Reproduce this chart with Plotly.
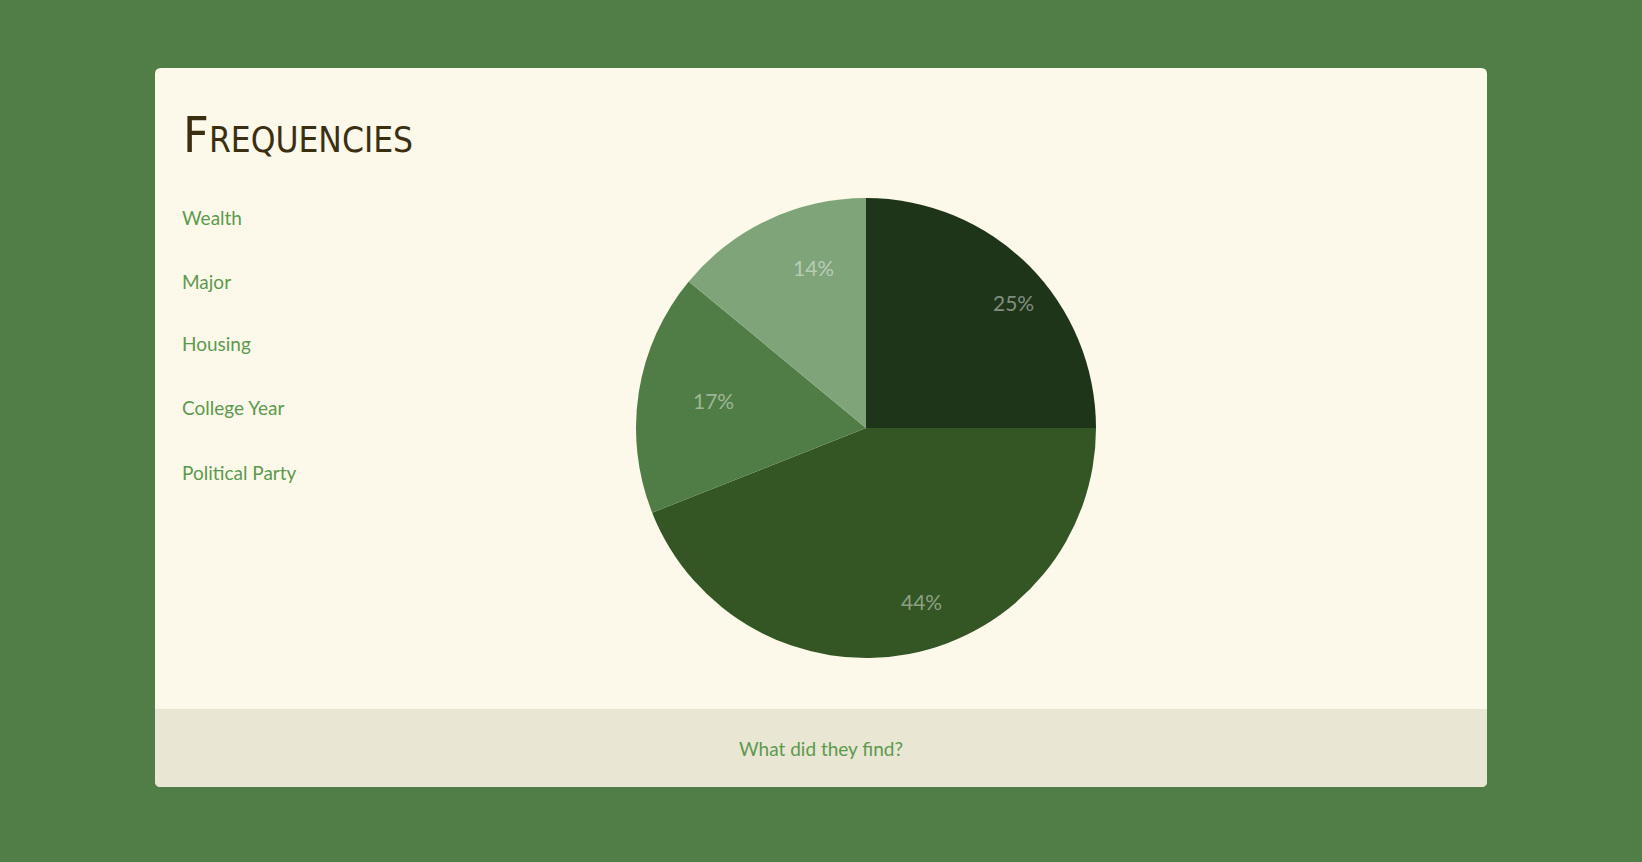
import math
import plotly.graph_objects as go

W, H = 1642, 862

# ---- data ----
slice_labels = ["Slice 1", "Slice 2", "Slice 3", "Slice 4"]
slice_values = [25, 44, 17, 14]
slice_colors = ["#1e3519", "#335624", "#507d45", "#7fa47a"]

menu_items = ["Wealth", "Major", "Housing", "College Year", "Political Party"]
title_text = "Frequencies"
footer_text = "What did they find?"

BG = "#517e46"
CARD = "#fdf9ea"
FOOT = "#e9e6d4"
TEXT_GREEN = "#5b9a4e"
TITLE_COL = "#3b2f12"


def px_x(x):
    return x / W


def px_y(y):
    return 1 - y / H


def rounded_path(x0, y0, x1, y1, r, top=True, bottom=True):
    def P(x, y):
        return f"{px_x(x):.6f},{px_y(y):.6f}"
    rt = r if top else 0
    rb = r if bottom else 0
    d = f"M {P(x0 + rt, y0)} L {P(x1 - rt, y0)} "
    if rt:
        d += f"Q {P(x1, y0)} {P(x1, y0 + rt)} "
    d += f"L {P(x1, y1 - rb)} "
    if rb:
        d += f"Q {P(x1, y1)} {P(x1 - rb, y1)} "
    d += f"L {P(x0 + rb, y1)} "
    if rb:
        d += f"Q {P(x0, y1)} {P(x0, y1 - rb)} "
    d += f"L {P(x0, y0 + rt)} "
    if rt:
        d += f"Q {P(x0, y0)} {P(x0 + rt, y0)} "
    d += "Z"
    return d


CX0, CY0, CX1, CY1 = 155, 68, 1487, 787
FOOT_TOP = 709

shapes = [
    dict(type="path", xref="paper", yref="paper", layer="below",
         path=rounded_path(CX0, CY0, CX1, CY1, 6), fillcolor=CARD, line=dict(width=0)),
    dict(type="path", xref="paper", yref="paper", layer="below",
         path=rounded_path(CX0, FOOT_TOP, CX1, CY1, 6, top=False), fillcolor=FOOT,
         line=dict(width=0)),
]

# pie geometry (pixels)
pcx, pcy, pr = 866, 428, 230

fig = go.Figure(go.Pie(
    labels=slice_labels,
    values=slice_values,
    sort=False,
    direction="clockwise",
    rotation=0,
    marker=dict(colors=slice_colors, line=dict(width=0)),
    textinfo="none",
    hoverinfo="skip",
    domain=dict(x=[px_x(pcx - pr), px_x(pcx + pr)],
                y=[px_y(pcy + pr), px_y(pcy - pr)]),
    showlegend=False,
))

annotations = [
    dict(text=title_text,
         x=px_x(181), y=px_y(166), xref="paper", yref="paper",
         xanchor="left", yanchor="bottom", showarrow=False,
         font=dict(family="DejaVu Sans Condensed",
                   size=50, color=TITLE_COL, variant="small-caps")),
]

# percentage labels placed at the mid-angle of each slice
total = sum(slice_values)
cum = 0
for v in slice_values:
    mid = (cum + v / 2) / total * 2 * math.pi
    cum += v
    lx = pcx + 0.77 * pr * math.sin(mid)
    ly = pcy - 0.77 * pr * math.cos(mid)
    annotations.append(dict(
        text=f"{round(100 * v / total)}%", x=px_x(lx), y=px_y(ly),
        xref="paper", yref="paper", xanchor="left", yanchor="middle",
        showarrow=False,
        font=dict(family="Lato", size=21, color="rgba(255,255,255,0.45)")))

menu_y = [217, 281, 344, 408, 472]
for name, yy in zip(menu_items, menu_y):
    annotations.append(dict(
        text=name, x=px_x(180), y=px_y(yy), xref="paper", yref="paper",
        xanchor="left", yanchor="middle", showarrow=False,
        font=dict(family="Lato", size=19, color=TEXT_GREEN)))

annotations.append(dict(
    text=footer_text, x=px_x(821), y=px_y(748), xref="paper", yref="paper",
    xanchor="center", yanchor="middle", showarrow=False,
    font=dict(family="Lato", size=19, color=TEXT_GREEN)))

fig.update_layout(
    width=W, height=H,
    margin=dict(l=0, r=0, t=0, b=0),
    paper_bgcolor=BG,
    plot_bgcolor=BG,
    shapes=shapes,
    annotations=annotations,
)

fig.write_html("out.html", config=dict(displayModeBar=False))
